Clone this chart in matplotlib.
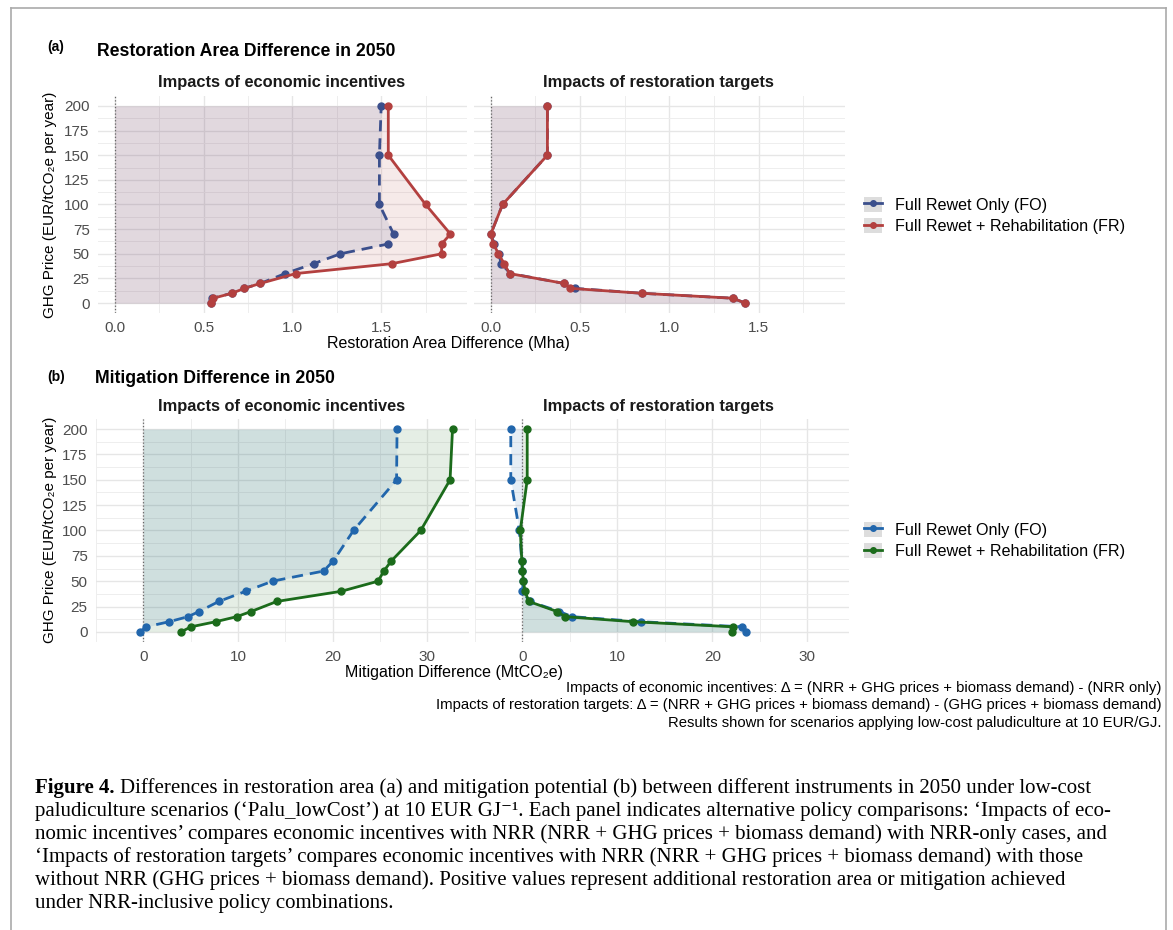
import matplotlib
matplotlib.use('Agg')
import matplotlib.pyplot as plt
from matplotlib.lines import Line2D
from matplotlib.patches import Patch

W, H = 1173, 930

ghg_price = [0, 5, 10, 15, 20, 30, 40, 50, 60, 70, 100, 150, 200]

# (a) restoration area difference, Mha
area_econ_fo = [0.54, 0.55, 0.66, 0.73, 0.82, 0.96, 1.12, 1.27, 1.54, 1.57, 1.49, 1.49, 1.50]
area_econ_fr = [0.54, 0.555, 0.66, 0.73, 0.82, 1.02, 1.56, 1.84, 1.84, 1.89, 1.75, 1.54, 1.54]
area_targ_fo = [1.425, 1.355, 0.845, 0.47, 0.41, 0.11, 0.058, 0.045, 0.02, 0.0, 0.066, 0.317, 0.317]
area_targ_fr = [1.425, 1.355, 0.845, 0.445, 0.41, 0.105, 0.075, 0.043, 0.015, 0.0, 0.066, 0.317, 0.317]

# (b) mitigation difference, MtCO2e
mit_econ_fo = [-0.33, 0.33, 2.72, 4.72, 5.88, 7.97, 10.8, 13.65, 19.04, 20.07, 22.2, 26.75, 26.8]
mit_econ_fr = [3.99, 5.05, 7.64, 9.87, 11.36, 14.1, 20.9, 24.8, 25.4, 26.2, 29.3, 32.4, 32.66]
mit_targ_fo = [23.5, 23.17, 12.5, 5.23, 3.9, 0.77, 0.0, 0.1, 0.0, -0.07, -0.33, -1.23, -1.23]
mit_targ_fr = [22.07, 22.17, 11.67, 4.5, 3.67, 0.67, 0.27, 0.1, 0.0, -0.07, -0.23, 0.5, 0.5]

legend_labels = ['Full Rewet Only (FO)', 'Full Rewet + Rehabilitation (FR)']

SANS = ['Liberation Sans', 'DejaVu Sans']
SERIF = ['Liberation Serif', 'DejaVu Serif']
plt.rcParams['font.family'] = SANS


def px(x, y):
    return x / W, 1 - y / H


def box(x0, y0, x1, y1):
    return [x0 / W, 1 - y1 / H, (x1 - x0) / W, (y1 - y0) / H]


def draw_panel(ax, x_fo, x_fr, c_fo, c_fr, xlim, xticks, xminor, xfmt, alpha):
    ax.fill_betweenx(ghg_price, 0, x_fr, color=c_fr, alpha=alpha, lw=0)
    ax.fill_betweenx(ghg_price, 0, x_fo, color=c_fo, alpha=alpha, lw=0)
    ax.axvline(0, color='#666666', ls=':', lw=0.9)
    ax.plot(x_fo, ghg_price, color=c_fo, lw=2, dashes=(4, 2.5), marker='o', ms=5, zorder=3)
    ax.plot(x_fr, ghg_price, color=c_fr, lw=2, marker='o', ms=5, zorder=4)
    ax.set_xlim(xlim)
    ax.set_ylim(-10, 210)
    ax.set_xticks(xticks)
    ax.set_xticklabels([xfmt(v) for v in xticks])
    ax.set_xticks(xminor, minor=True)
    ax.set_yticks(range(0, 201, 25))
    ax.set_yticks([12.5 + 25 * i for i in range(8)], minor=True)
    ax.grid(which='major', color='#E6E6E6', lw=1.0)
    ax.grid(which='minor', color='#EEEEEE', lw=0.7)
    ax.set_axisbelow(True)
    for s in ax.spines.values():
        s.set_visible(False)
    ax.tick_params(which='both', length=0, labelsize=11, labelcolor='#4D4D4D', pad=6)


fig = plt.figure(figsize=(W / 100, H / 100), dpi=100)

# frame around the figure
for (xa, ya) in [((11, 11), (8, 930)), ((1166, 1166), (8, 930)), ((11, 1166), (8, 8))]:
    fig.add_artist(Line2D([xa[0] / W, xa[1] / W], [1 - ya[0] / H, 1 - ya[1] / H],
                          color='#AAAAAA', lw=1.2))

red, navy = '#B3403F', '#3B4F8C'
green, blue = '#1B6B1B', '#2166AC'

# ---- panel (a)
a_lim = (-0.094, 1.983)
a_ticks = [0.0, 0.5, 1.0, 1.5]
a_minor = [0.25, 0.75, 1.25, 1.75]
ax1 = fig.add_axes(box(98, 96, 467, 313))
draw_panel(ax1, area_econ_fo, area_econ_fr, navy, red, a_lim, a_ticks, a_minor,
           lambda v: f'{v:.1f}', 0.11)
ax2 = fig.add_axes(box(474, 96, 845, 313))
draw_panel(ax2, area_targ_fo, area_targ_fr, navy, red, a_lim, a_ticks, a_minor,
           lambda v: f'{v:.1f}', 0.11)
ax2.set_yticklabels([])

# ---- panel (b)
b_lim = (-2.93, 34.4)
b_ticks = [0, 10, 20, 30]
b_minor = [-5, 5, 15, 25]
ax3 = fig.add_axes(box(96, 419, 469, 642))
draw_panel(ax3, mit_econ_fo, mit_econ_fr, blue, green, b_lim, b_ticks, b_minor,
           lambda v: f'{v:d}', 0.11)
ax4 = fig.add_axes(box(475, 419, 849, 642))
draw_panel(ax4, mit_targ_fo, mit_targ_fr, blue, green, b_lim, b_ticks, b_minor,
           lambda v: f'{v:d}', 0.11)
ax4.set_yticklabels([])

# titles
fig.text(*px(47, 47), '(a)', fontsize=10, fontweight='bold', va='center')
fig.text(*px(97, 52), 'Restoration Area Difference in 2050', fontsize=12.7, fontweight='bold', va='center')
fig.text(*px(47, 377), '(b)', fontsize=10, fontweight='bold', va='center')
fig.text(*px(95, 378), 'Mitigation Difference in 2050', fontsize=12.7, fontweight='bold', va='center')

for yy in (83, 407):
    fig.text(*px(282, yy), 'Impacts of economic incentives', fontsize=11.8, fontweight='bold',
             ha='center', va='center', color='#1A1A1A')
    fig.text(*px(658, yy), 'Impacts of restoration targets', fontsize=11.8, fontweight='bold',
             ha='center', va='center', color='#1A1A1A')

ylab = 'GHG Price (EUR/tCO\u2082e per year)'
fig.text(*px(50, 205), ylab, rotation=90, fontsize=11, ha='center', va='center')
fig.text(*px(50, 530), ylab, rotation=90, fontsize=11, ha='center', va='center')
fig.text(*px(448, 343), 'Restoration Area Difference (Mha)', fontsize=11.5, ha='center', va='center')
fig.text(*px(454, 672), 'Mitigation Difference (MtCO\u2082e)', fontsize=11.5, ha='center', va='center')

# legends
def add_legend(c_fo, c_fr, yc):
    handles = [
        (Patch(facecolor='#DDDDDD', edgecolor='none'),
         Line2D([], [], color=c_fo, lw=2, marker='o', ms=4)),
        (Patch(facecolor='#DDDDDD', edgecolor='none'),
         Line2D([], [], color=c_fr, lw=2, marker='o', ms=4)),
    ]
    fig.legend(handles, legend_labels, loc='center left', bbox_to_anchor=px(864, yc),
               frameon=False, fontsize=11.6, handlelength=1.1, handleheight=1.1,
               labelspacing=0.3, handletextpad=0.8, borderpad=0, borderaxespad=0)

add_legend(navy, red, 215.5)
add_legend(blue, green, 540.5)

# notes
notes = [
    'Impacts of economic incentives: \u0394 = (NRR + GHG prices + biomass demand) - (NRR only)',
    'Impacts of restoration targets: \u0394 = (NRR + GHG prices + biomass demand) - (GHG prices + biomass demand)',
    'Results shown for scenarios applying low-cost paludiculture at 10 EUR/GJ.',
]
for i, t in enumerate(notes):
    fig.text(*px(1161, 688 + 17.5 * i), t, fontsize=10.7, ha='right', va='center')

# caption
caption = [
    'Differences in restoration area (a) and mitigation potential (b) between different instruments in 2050 under low-cost',
    'paludiculture scenarios (\u2018Palu_lowCost\u2019) at 10 EUR GJ\u207b\u00b9. Each panel indicates alternative policy comparisons: \u2018Impacts of eco-',
    'nomic incentives\u2019 compares economic incentives with NRR (NRR + GHG prices + biomass demand) with NRR-only cases, and',
    '\u2018Impacts of restoration targets\u2019 compares economic incentives with NRR (NRR + GHG prices + biomass demand) with those',
    'without NRR (GHG prices + biomass demand). Positive values represent additional restoration area or mitigation achieved',
    'under NRR-inclusive policy combinations.',
]
cap_size = 15
fig4 = fig.text(*px(35, 788), 'Figure 4.', fontsize=cap_size, fontweight='bold', family=SERIF, va='center')
fig.canvas.draw()
bb = fig4.get_window_extent()
x_after = (bb.x1 + 5) / W
fig.text(x_after, 1 - 788 / H, caption[0], fontsize=cap_size, family=SERIF, va='center')
for i, line in enumerate(caption[1:], start=1):
    fig.text(*px(35, 788 + 23 * i), line, fontsize=cap_size, family=SERIF, va='center')

fig.savefig('out.png', dpi=100)
